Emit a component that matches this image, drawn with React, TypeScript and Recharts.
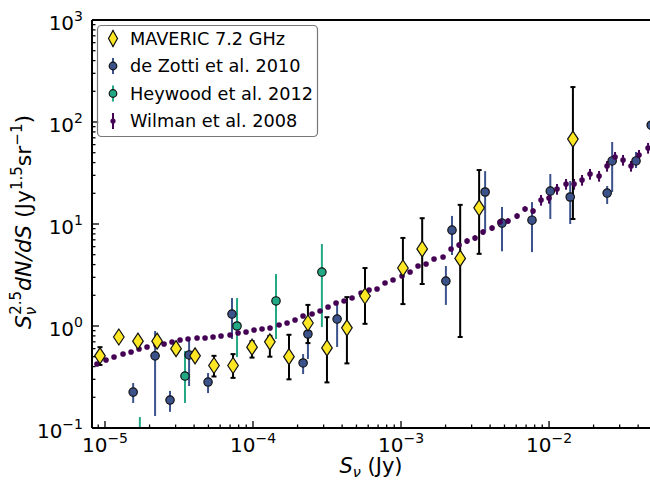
import React from "react";
import { ScatterChart, Scatter, XAxis, YAxis, ErrorBar, ReferenceLine } from "recharts";

const FONT = "DejaVu Sans, sans-serif";

const COLORS = {
  maveric: "#fde725",
  dezotti: "#3b528b",
  heywood: "#22a884",
  wilman: "#440154",
};

/* ── MAVERIC 7.2 GHz ── */
const mavS = [9.25e-6, 1.24e-5, 1.67e-5, 2.25e-5, 3.02e-5, 4.06e-5, 5.45e-5, 7.33e-5, 9.85e-5, 1.3e-4, 1.75e-4, 2.35e-4, 3.16e-4, 4.31e-4, 5.71e-4, 1.03e-3, 1.39e-3, 2.51e-3, 3.37e-3, 1.45e-2];
const mavY = [0.51, 0.78, 0.71, 0.71, 0.6, 0.51, 0.41, 0.41, 0.62, 0.7, 0.5, 1.07, 0.61, 0.96, 1.97, 3.7, 5.7, 4.6, 14.4, 68];
const mavLo = [0.415, 0.72, 0.66, 0.66, 0.55, 0.47, 0.32, 0.31, 0.49, 0.5, 0.3, 0.68, 0.28, 0.43, 1.05, 1.64, 2.58, 0.78, 5.1, 11.2];
const mavHi = [0.62, 0.85, 0.77, 0.77, 0.65, 0.56, 0.51, 0.53, 0.71, 0.8, 0.82, 1.61, 1.22, 1.92, 3.7, 7.3, 11.4, 15.4, 33.8, 220];

/* ── de Zotti et al. 2010 ── */
const dzS = [1.55e-5, 2.18e-5, 2.75e-5, 3.7e-5, 4.97e-5, 7.21e-5, 2.18e-4, 2.35e-4, 3.7e-4, 2.01e-3, 2.21e-3, 3.7e-3, 4.81e-3, 7.67e-3, 1.02e-2, 1.39e-2, 2.47e-2, 2.67e-2, 3.87e-2, 4.9e-2];
const dzY = [0.225, 0.51, 0.188, 0.52, 0.282, 1.31, 0.434, 0.835, 1.17, 2.76, 8.7, 20.6, 10.2, 10.9, 21, 18.4, 20.1, 41.5, 41.5, 93];
const dzLo = [0.176, 0.131, 0.144, 0.258, 0.22, 0.746, 0.338, 0.475, 0.623, 1.61, 4.97, 8.4, 5.4, 5.3, 11.2, 10, 15.7, 20.6, 35.4, 80];
const dzHi = [0.276, 0.893, 0.231, 0.713, 0.346, 1.88, 0.531, 0.98, 1.64, 3.87, 12, 33, 14.7, 16.4, 30.9, 26.4, 23.6, 63.7, 50.8, 110];

/* ── Heywood et al. 2012 (first point sits below the frame) ── */
const hwS = [1.72e-5, 3.47e-5, 7.8e-5, 1.43e-4, 2.92e-4];
const hwY = [0.06, 0.323, 1.0, 1.76, 3.38];
const hwLo = [0.1, 0.176, 0.497, 0.746, 0.978];
const hwHi = [0.128, 0.569, 1.88, 3.23, 6.37];

/* ── Wilman et al. 2008 (relative errors) ── */
const wilS = [
  8.83e-6, 1.016e-5, 1.151e-5, 1.324e-5, 1.5e-5, 1.698e-5, 1.923e-5, 2.213e-5, 2.506e-5, 2.838e-5,
  3.214e-5, 3.64e-5, 4.188e-5, 4.742e-5, 5.37e-5, 6.081e-5, 6.998e-5, 7.925e-5, 8.974e-5, 1.016e-4,
  1.151e-4, 1.303e-4, 1.5e-4, 1.698e-4, 1.923e-4, 2.178e-4, 2.506e-4, 2.838e-4, 3.214e-4, 3.64e-4,
  4.121e-4, 4.667e-4, 5.37e-4, 6.081e-4, 6.886e-4, 7.798e-4, 8.83e-4, 1.016e-3, 1.151e-3, 1.303e-3,
  1.476e-3, 1.671e-3, 1.923e-3, 2.178e-3, 2.466e-3, 2.793e-3, 3.162e-3, 3.581e-3, 4.121e-3, 4.667e-3,
  5.284e-3, 6.081e-3, 6.886e-3, 7.798e-3, 8.83e-3, 1.0e-2, 1.132e-2, 1.303e-2, 1.476e-2, 1.671e-2,
  1.892e-2, 2.178e-2, 2.466e-2, 2.793e-2, 3.162e-2, 3.581e-2, 4.055e-2, 4.667e-2,
];
const wilY = [
  0.424, 0.464, 0.497, 0.531, 0.556, 0.595, 0.623, 0.651, 0.667, 0.697,
  0.729, 0.746, 0.763, 0.763, 0.78, 0.798, 0.816, 0.854, 0.873, 0.914,
  0.935, 0.956, 1.023, 1.07, 1.145, 1.253, 1.311, 1.403, 1.535, 1.681,
  1.758, 1.882, 2.106, 2.254, 2.305, 2.64, 2.825, 3.091, 3.383, 3.873,
  4.054, 4.538, 4.747, 5.689, 6.224, 6.811, 7.29, 8.35, 9.138, 10.46,
  10.7, 11.97, 14.03, 13.41, 17.19, 17.98, 22.03, 24.66, 24.66, 26.99,
  30.91, 29.55, 37.04, 45.37, 42.39, 37.04, 47.47, 55.63,
];
const wilErr = [
  0.03, 0.03, 0.03, 0.03, 0.03, 0.03, 0.03, 0.03, 0.03, 0.03,
  0.03, 0.03, 0.03, 0.03, 0.03, 0.03, 0.03, 0.03, 0.03, 0.03,
  0.03, 0.03, 0.03, 0.03, 0.03, 0.03, 0.03, 0.03, 0.03, 0.03,
  0.03, 0.03, 0.03, 0.03, 0.03, 0.03, 0.03, 0.03, 0.03, 0.03,
  0.03, 0.03, 0.03, 0.03, 0.06, 0.06, 0.06, 0.06, 0.06, 0.06,
  0.06, 0.06, 0.06, 0.06, 0.12, 0.12, 0.12, 0.12, 0.12, 0.12,
  0.12, 0.12, 0.12, 0.12, 0.12, 0.12, 0.12, 0.12,
];

/* ── axes ── */
const X_DOMAIN = [8.17e-6, 0.0481];
const Y_DOMAIN = [0.1, 1000];
const xMajor = [1e-5, 1e-4, 1e-3, 1e-2];
const xMajorLabels = ["−5", "−4", "−3", "−2"];
const yMajor = [0.1, 1, 10, 100, 1000];
const yMajorLabels = ["−1", "0", "1", "2", "3"];
const mantissas = [2, 3, 4, 5, 6, 7, 8, 9];

const xTicks = [9e-6, ...xMajor, ...xMajor.flatMap((d) => mantissas.map((m) => m * d))].filter(
  (v) => v > X_DOMAIN[0] && v < X_DOMAIN[1]
);
const yTicks = [...yMajor, ...yMajor.slice(0, 4).flatMap((d) => mantissas.map((m) => m * d))];

const withErr = (s: number[], y: number[], lo: number[], hi: number[]) =>
  s.map((x, i) => ({ x, y: y[i], err: [y[i] - lo[i], hi[i] - y[i]] }));

const mavData = withErr(mavS, mavY, mavLo, mavHi);
const dzData = withErr(dzS, dzY, dzLo, dzHi);
const hwData = withErr(hwS, hwY, hwLo, hwHi);
const wilData = wilS.map((x, i) => ({ x, y: wilY[i], err: [wilY[i] * wilErr[i], wilY[i] * wilErr[i]] }));

const majorIndex = (list: number[], v: number) => list.findIndex((m) => Math.abs(m - v) / m < 1e-6);

function XTick({ x, y, payload }: any) {
  const i = majorIndex(xMajor, payload.value);
  return (
    <g>
      <line x1={x} x2={x} y1={y} y2={y - (i >= 0 ? 7 : 3.5)} stroke="#000" strokeWidth={1.3} />
      {i >= 0 && (
        <text x={x} y={y + 24} textAnchor="middle" fontSize={20} fontFamily={FONT} fill="#000">
          <tspan>10</tspan>
          <tspan dy={-9} fontSize={14}>{xMajorLabels[i]}</tspan>
        </text>
      )}
    </g>
  );
}

function YTick({ x, y, payload }: any) {
  const i = majorIndex(yMajor, payload.value);
  return (
    <g>
      <line x1={x} x2={x + (i >= 0 ? 7 : 3.5)} y1={y} y2={y} stroke="#000" strokeWidth={1.3} />
      {i >= 0 && (
        <text x={x - 9} y={y + 10} textAnchor="end" fontSize={20} fontFamily={FONT} fill="#000">
          <tspan>10</tspan>
          <tspan dy={-9} fontSize={14}>{yMajorLabels[i]}</tspan>
        </text>
      )}
    </g>
  );
}

const Diamond = ({ cx, cy }: any) => (
  <path
    d={`M${cx},${cy - 8} L${cx + 5.3},${cy} L${cx},${cy + 8} L${cx - 5.3},${cy} Z`}
    fill={COLORS.maveric}
    stroke="#111"
    strokeWidth={1.2}
  />
);

const circle = (color: string) => ({ cx, cy }: any) => (
  <circle cx={cx} cy={cy} r={4.2} fill={color} stroke="#111" strokeWidth={1.2} />
);

const Dot = ({ cx, cy }: any) => <circle cx={cx} cy={cy} r={2.8} fill={COLORS.wilman} />;

const legendRows = [
  { label: "MAVERIC 7.2 GHz", kind: "diamond", color: COLORS.maveric, bar: "#000" },
  { label: "de Zotti et al. 2010", kind: "circle", color: COLORS.dezotti, bar: COLORS.dezotti },
  { label: "Heywood et al. 2012", kind: "circle", color: COLORS.heywood, bar: COLORS.heywood },
  { label: "Wilman et al. 2008", kind: "dot", color: COLORS.wilman, bar: COLORS.wilman },
];

function Overlay() {
  return (
    <svg width={650} height={480} style={{ position: "absolute", left: 0, top: 0, pointerEvents: "none" }}>
      {/* legend */}
      <rect x={97.5} y={25.5} width={220} height={111} rx={4} fill="rgba(255,255,255,0.85)" stroke="#777" strokeWidth={1.2} />
      {legendRows.map((r, i) => {
        const cy = 38.5 + i * 27.5;
        return (
          <g key={r.label}>
            <line x1={113} x2={113} y1={cy - 8} y2={cy + 8} stroke={r.bar} strokeWidth={2} />
            {r.kind === "diamond" && (
              <path d={`M113,${cy - 8} L117.5,${cy} L113,${cy + 8} L108.5,${cy} Z`} fill={r.color} stroke="#111" strokeWidth={1.2} />
            )}
            {r.kind === "circle" && <circle cx={113} cy={cy} r={3.8} fill={r.color} stroke="#111" strokeWidth={1.2} />}
            {r.kind === "dot" && <circle cx={113} cy={cy} r={2.6} fill={r.color} />}
            <text x={130} y={cy + 6} fontSize={17.7} fontFamily={FONT} fill="#000">
              {r.label}
            </text>
          </g>
        );
      })}

      {/* x label */}
      <text x={371} y={473} textAnchor="middle" fontSize={21} fontFamily={FONT} fill="#000">
        <tspan fontStyle="italic">S</tspan>
        <tspan fontSize={14.5} dy={3.5} fontStyle="italic">ν</tspan>
        <tspan dy={-3.5}> (Jy)</tspan>
      </text>

      {/* y label */}
      <text transform="rotate(-90)" x={-222} y={31} textAnchor="middle" fontSize={22} fontFamily={FONT} fill="#000">
        <tspan fontStyle="italic">S</tspan>
        <tspan fontSize={15} dy={5} fontStyle="italic">ν</tspan>
        <tspan fontSize={15} dx={-8} dy={-15}>2.5</tspan>
        <tspan fontStyle="italic" dy={10}>dN</tspan>
        <tspan fontStyle="italic">/</tspan>
        <tspan fontStyle="italic">dS</tspan>
        <tspan> (Jy</tspan>
        <tspan fontSize={15} dy={-9}>1.5</tspan>
        <tspan dy={9}>sr</tspan>
        <tspan fontSize={15} dy={-9}>−1</tspan>
        <tspan dy={9}>)</tspan>
      </text>
    </svg>
  );
}

export default function App() {
  return (
    <div style={{ position: "absolute", left: 0, top: 0, width: 650, height: 480, background: "#fff", overflow: "hidden" }}>
      <ScatterChart width={650} height={480} margin={{ top: 20, right: 0, bottom: 0, left: 0 }}>
        <XAxis
          type="number"
          dataKey="x"
          scale="log"
          domain={X_DOMAIN}
          allowDataOverflow
          ticks={xTicks}
          interval={0}
          tick={<XTick />}
          tickLine={false}
          tickSize={0}
          tickMargin={0}
          height={52}
          axisLine={{ stroke: "#000", strokeWidth: 2 }}
        />
        <YAxis
          type="number"
          dataKey="y"
          scale="log"
          domain={Y_DOMAIN}
          allowDataOverflow
          ticks={yTicks}
          interval={0}
          tick={<YTick />}
          tickLine={false}
          tickSize={0}
          tickMargin={0}
          width={92}
          axisLine={{ stroke: "#000", strokeWidth: 2 }}
        />
        <ReferenceLine y={1000} stroke="#000" strokeWidth={2} />
        <Scatter data={dzData} shape={circle(COLORS.dezotti)} isAnimationActive={false}>
          <ErrorBar dataKey="err" direction="y" width={0} stroke={COLORS.dezotti} strokeWidth={2} isAnimationActive={false} />
        </Scatter>
        <Scatter data={hwData} shape={circle(COLORS.heywood)} isAnimationActive={false}>
          <ErrorBar dataKey="err" direction="y" width={0} stroke={COLORS.heywood} strokeWidth={2} isAnimationActive={false} />
        </Scatter>
        <Scatter data={wilData} shape={Dot} isAnimationActive={false}>
          <ErrorBar dataKey="err" direction="y" width={0} stroke={COLORS.wilman} strokeWidth={2} isAnimationActive={false} />
        </Scatter>
        <Scatter data={mavData} shape={Diamond} isAnimationActive={false}>
          <ErrorBar dataKey="err" direction="y" width={2.5} stroke="#000" strokeWidth={2} isAnimationActive={false} />
        </Scatter>
      </ScatterChart>
      <Overlay />
    </div>
  );
}
